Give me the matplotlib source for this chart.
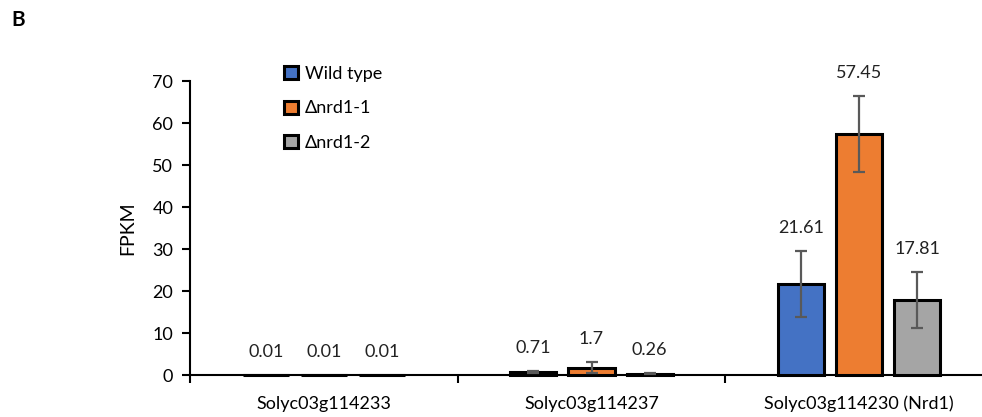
import numpy as np
import matplotlib.pyplot as plt

plt.rcParams['font.family'] = ['Lato', 'DejaVu Sans']

# 数据
genes = ['Solyc03g114233', 'Solyc03g114237', 'Solyc03g114230 (Nrd1)']
series = ['Wild type', 'Δnrd1-1', 'Δnrd1-2']
wild_type = [0.01, 0.71, 21.61]
nrd1_1 = [0.01, 1.7, 57.45]
nrd1_2 = [0.01, 0.26, 17.81]
wild_type_err = [0.0, 0.25, 7.8]
nrd1_1_err = [0.0, 1.3, 9.0]
nrd1_2_err = [0.0, 0.1, 6.7]
y_ticks = [0, 10, 20, 30, 40, 50, 60, 70]

colors = ['#4472C4', '#ED7D31', '#A5A5A5']

fig = plt.figure(figsize=(9.82, 4.17), dpi=100)
ax = fig.add_axes([0.1935, 0.1007, 0.8177, 0.705])

x = np.arange(1, len(genes) + 1)
width = 0.172
step = 0.217
values = [wild_type, nrd1_1, nrd1_2]
errors = [wild_type_err, nrd1_1_err, nrd1_2_err]

for k, (vals, errs) in enumerate(zip(values, errors)):
    pos = x + (k - 1) * step
    ax.bar(pos, vals, width=width, color=colors[k], edgecolor='black',
           linewidth=2.2, label=series[k], zorder=3, clip_on=False)
    # 只画有误差的点
    m = np.array(errs) > 0
    ax.errorbar(pos[m], np.array(vals)[m], yerr=np.array(errs)[m], fmt='none',
                ecolor='#595959', elinewidth=1.6, capsize=4, capthick=1.6, zorder=4)
    for p, v, e in zip(pos, vals, errs):
        ax.text(p, v + e + 5.5, f'{v:g}', ha='center', va='center',
                fontsize=13, color='#222222')

ax.set_xlim(0.5, 3.5)
ax.set_ylim(0, 70)
ax.set_yticks(y_ticks)
ax.tick_params(axis='y', labelsize=13, length=6, width=1.5, pad=6)

# 类别标签在中间，刻度在类别边界
ax.set_xticks([0.5, 1.5, 2.5, 3.5])
ax.set_xticklabels([])
ax.set_xticks(x, minor=True)
ax.set_xticklabels(genes, minor=True, fontsize=13)
ax.tick_params(axis='x', which='major', length=6, width=1.5, direction='out')
ax.tick_params(axis='x', which='minor', length=0, pad=15)

for s in ['top', 'right']:
    ax.spines[s].set_visible(False)
ax.spines['left'].set_linewidth(1.5)
ax.spines['bottom'].set_linewidth(1.5)

ax.set_ylabel('FPKM', fontsize=14, labelpad=12)

leg = ax.legend(loc='upper left', bbox_to_anchor=(0.108, 1.076), frameon=False,
                fontsize=13, handlelength=0.75, handleheight=0.75,
                handletextpad=0.4, labelspacing=1.03, borderaxespad=0)

fig.text(0.012, 0.952, 'B', fontsize=15, fontweight='bold', va='center', ha='left')

fig.savefig('out.png', dpi=100)
